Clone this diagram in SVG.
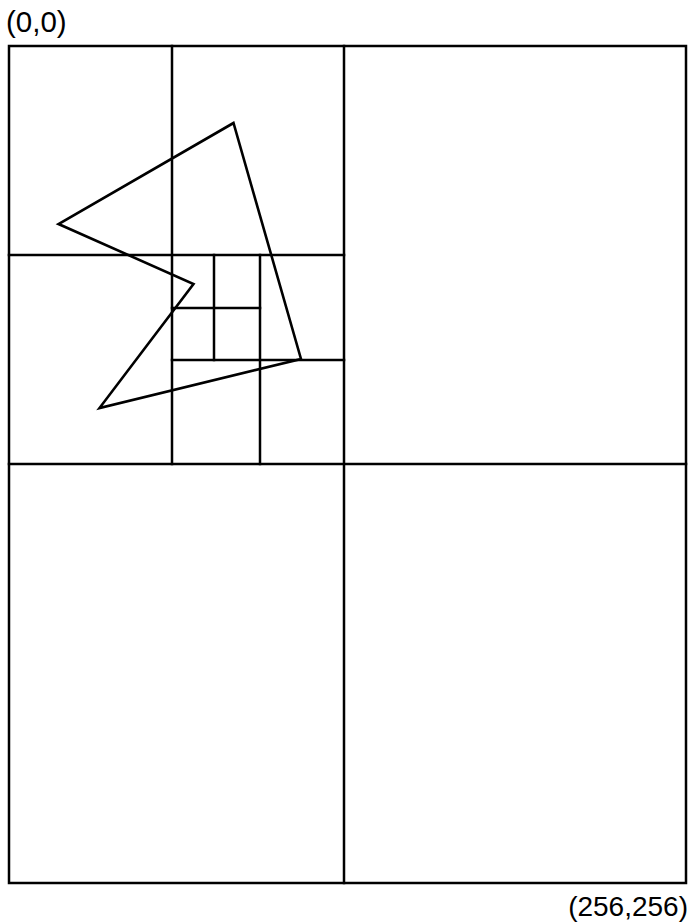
<svg xmlns="http://www.w3.org/2000/svg" width="691" height="924" viewBox="0 0 691 924">
<style>
.l{stroke:#000;stroke-width:2.5;fill:none;stroke-linecap:square}
.p{stroke:#000;stroke-width:2.6;fill:none;stroke-linejoin:miter}
.t{font-family:"Liberation Sans",Arial,sans-serif;font-size:28px;fill:#000}
</style>
<rect width="691" height="924" fill="#fff"/>
<g id="grid">
<rect class="l" x="9" y="46" width="677" height="837"/>
<line class="l" x1="344" y1="46" x2="344" y2="883"/>
<line class="l" x1="9" y1="464" x2="686" y2="464"/>
<line class="l" x1="172" y1="46" x2="172" y2="464"/>
<line class="l" x1="9" y1="255" x2="344" y2="255"/>
<line class="l" x1="260" y1="255" x2="260" y2="464"/>
<line class="l" x1="172" y1="360" x2="344" y2="360"/>
<line class="l" x1="214" y1="255" x2="214" y2="360"/>
<line class="l" x1="172" y1="308" x2="260" y2="308"/>
</g>
<g id="polygon">
<polygon class="p" points="233.5,123 58.5,224 193.5,284 99.5,408 301,359"/>
</g>
<g id="labels">
<text class="t" x="6" y="32" style="font-size:29.5px">(0,0)</text>
<text class="t" x="688" y="916" text-anchor="end">(256,256)</text>
</g>
</svg>
